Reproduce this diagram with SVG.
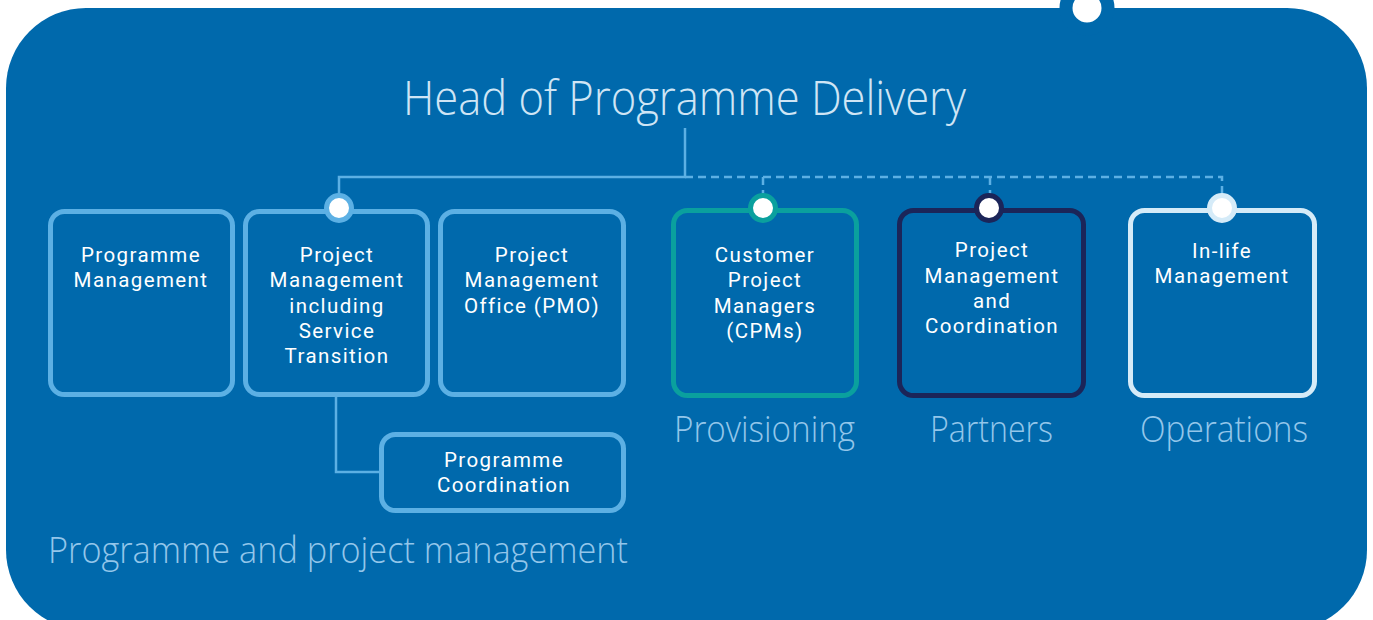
<svg xmlns="http://www.w3.org/2000/svg" width="1373" height="620" viewBox="0 0 1373 620">
  <defs>
    <style>
      .panel { fill: #0069ac; }
      .box { fill: #0069ac; stroke-width: 5; }
      .lb { stroke: #5cb0e4; }
      .teal { stroke: #0aa09e; }
      .navy { stroke: #1b2559; }
      .pale { stroke: #d5ebf8; }
      .dot { fill: #ffffff; stroke-width: 5; }
      .link { fill: none; stroke: #5cb0e4; stroke-width: 2.5; }
      .dash { stroke-dasharray: 8 5; }
      .label { font-family: Roboto, "Liberation Sans", sans-serif; font-size: 20.5px; font-weight: 400; letter-spacing: 1.4px; fill: #ffffff; text-anchor: middle; }
      .head { font-family: "Open Sans", "Lato", "Liberation Sans", sans-serif; font-weight: 300; text-anchor: middle; }
    </style>
  </defs>

  <!-- background panel with top tab -->
  <rect class="panel" x="6" y="8" width="1361" height="622" rx="80" ry="80"/>
  <circle cx="1087" cy="8" r="21" fill="#ffffff" stroke="#0069ac" stroke-width="13"/>

  <text id="title" class="head" x="684.5" y="115" font-size="48" fill="#cfe5f5" textLength="563" lengthAdjust="spacingAndGlyphs">Head of Programme Delivery</text>

  <!-- connectors -->
  <g id="connectors">
    <polyline class="link" points="685,128 685,177 339,177 339,195"/>
    <polyline class="link dash" points="685,177 1222,177 1222,195"/>
    <line class="link dash" x1="763" y1="177" x2="763" y2="195"/>
    <line class="link dash" x1="990" y1="177" x2="990" y2="195"/>
    <polyline class="link" points="336,397 336,472 380,472"/>
  </g>

  <g id="programme-management">
    <rect class="box lb" x="50.5" y="211.5" width="182" height="183" rx="14"/>
    <text class="label"><tspan x="141" y="262">Programme</tspan><tspan x="141" y="287">Management</tspan></text>
  </g>

  <g id="project-management">
    <rect class="box lb" x="245.5" y="211.5" width="182" height="183" rx="14"/>
    <circle class="dot lb" cx="339" cy="208" r="12.5"/>
    <text class="label"><tspan x="337" y="262">Project</tspan><tspan x="337" y="287">Management</tspan><tspan x="337" y="313">including</tspan><tspan x="337" y="338">Service</tspan><tspan x="337" y="363">Transition</tspan></text>
  </g>

  <g id="pmo">
    <rect class="box lb" x="440.5" y="211.5" width="183" height="183" rx="14"/>
    <text class="label"><tspan x="532" y="262">Project</tspan><tspan x="532" y="287">Management</tspan><tspan x="532" y="313">Office (PMO)</tspan></text>
  </g>

  <g id="programme-coordination">
    <rect class="box lb" x="381.5" y="434.5" width="242" height="76" rx="14"/>
    <text class="label"><tspan x="504" y="467">Programme</tspan><tspan x="504" y="492">Coordination</tspan></text>
  </g>

  <g id="cpms">
    <rect class="box teal" x="673.5" y="210.5" width="183" height="185" rx="14"/>
    <circle class="dot teal" cx="763" cy="208" r="12.5"/>
    <text class="label"><tspan x="765" y="262">Customer</tspan><tspan x="765" y="287">Project</tspan><tspan x="765" y="313">Managers</tspan><tspan x="765" y="338">(CPMs)</tspan></text>
  </g>

  <g id="partner-pm">
    <rect class="box navy" x="899.5" y="210.5" width="184" height="185" rx="14"/>
    <circle class="dot navy" cx="989" cy="208" r="12.5"/>
    <text class="label"><tspan x="992" y="257">Project</tspan><tspan x="992" y="283">Management</tspan><tspan x="992" y="308">and</tspan><tspan x="992" y="333">Coordination</tspan></text>
  </g>

  <g id="in-life">
    <rect class="box pale" x="1130.5" y="210.5" width="184" height="185" rx="14"/>
    <circle class="dot pale" cx="1222" cy="208" r="12.5"/>
    <text class="label"><tspan x="1222" y="258">In-life</tspan><tspan x="1222" y="283">Management</tspan></text>
  </g>

  <!-- section captions -->
  <g id="captions" class="head" font-size="36" fill="#93c6ea">
    <text x="764.5" y="442" textLength="181" lengthAdjust="spacingAndGlyphs">Provisioning</text>
    <text x="991.5" y="442" textLength="123" lengthAdjust="spacingAndGlyphs">Partners</text>
    <text x="1224" y="442" textLength="168" lengthAdjust="spacingAndGlyphs">Operations</text>
    <text x="338" y="563" textLength="580" lengthAdjust="spacingAndGlyphs">Programme and project management</text>
  </g>
</svg>
